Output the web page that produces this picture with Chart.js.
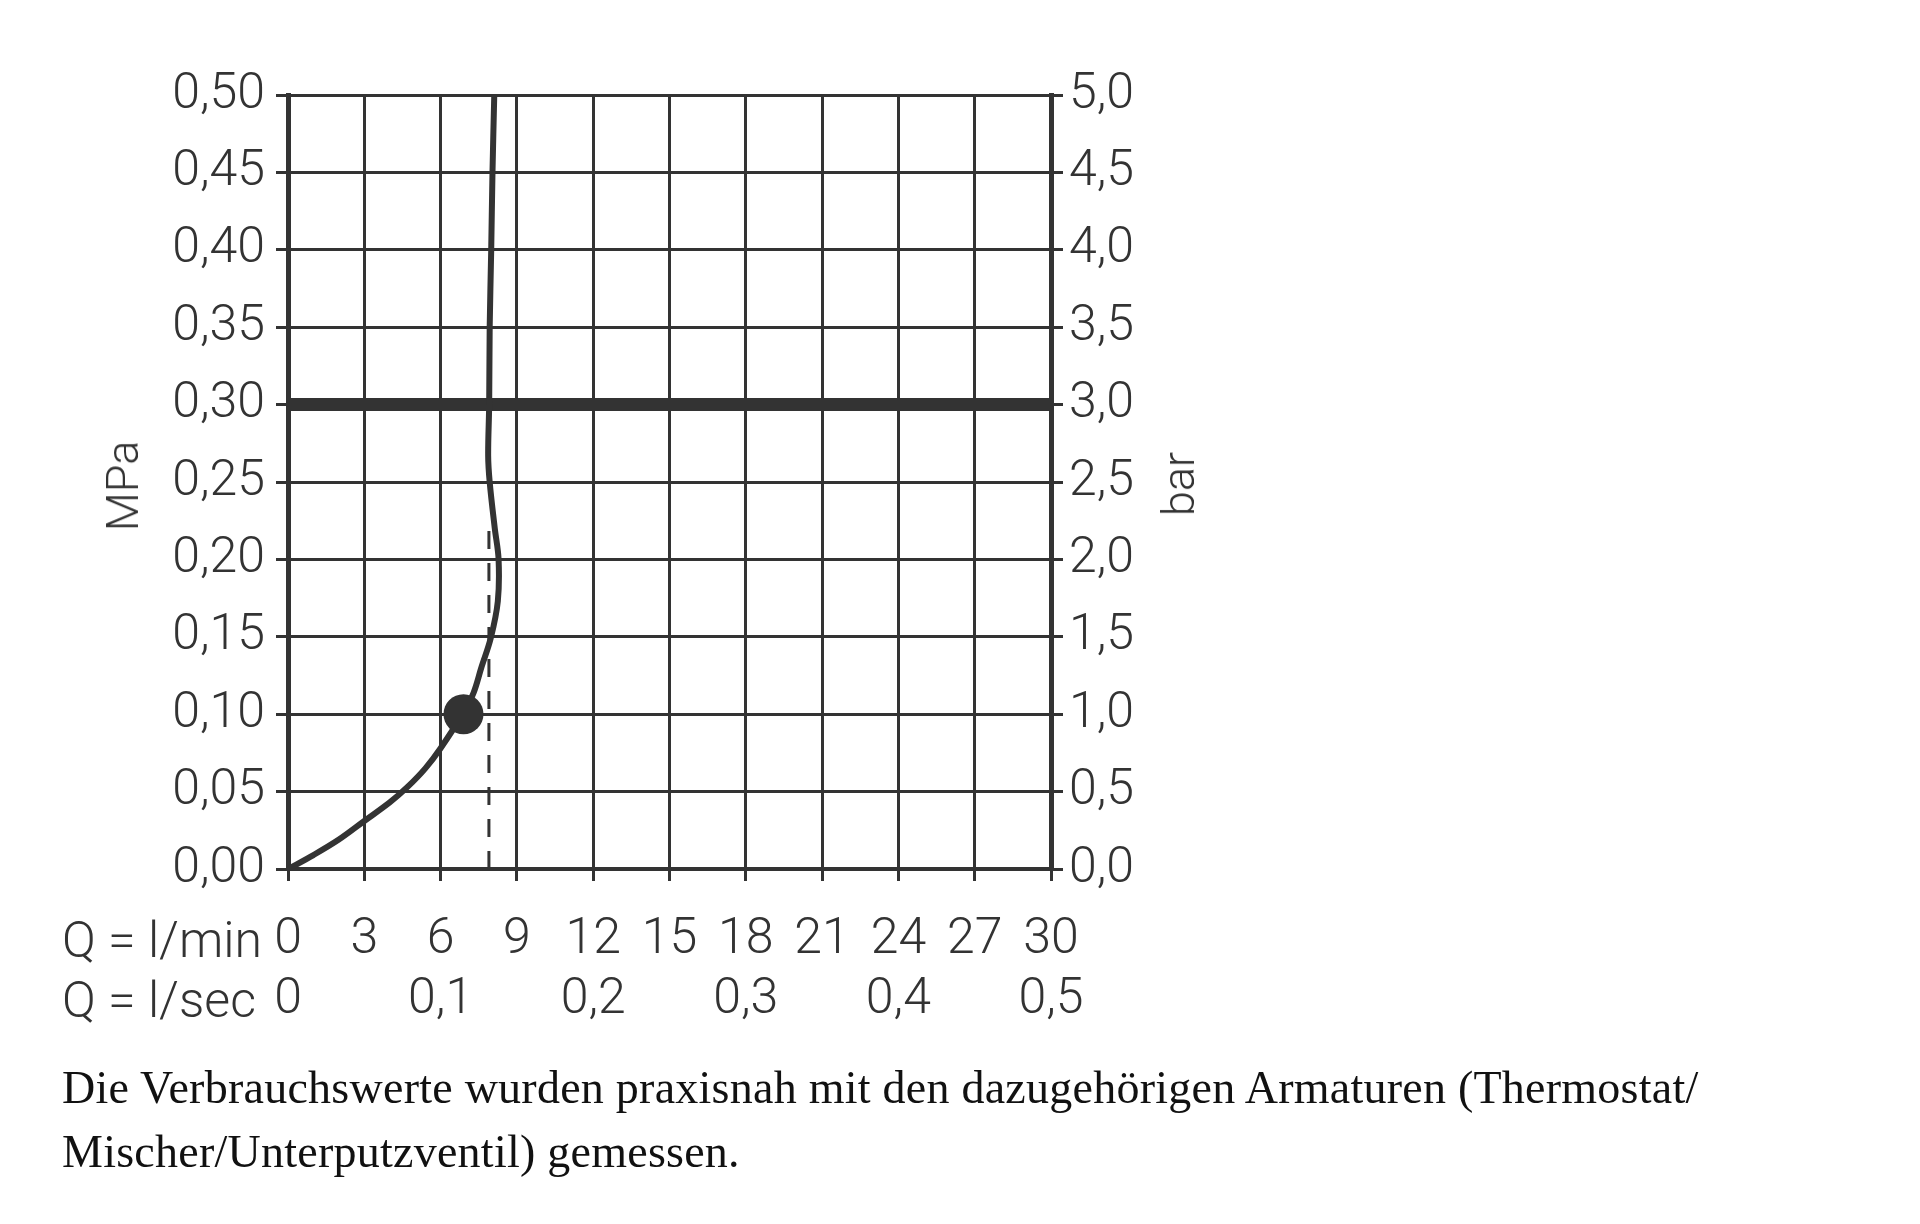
<!DOCTYPE html>
<html lang="de">

<head>
    <meta charset="UTF-8">
    <title>Durchflussdiagramm</title>
    <script src="https://cdn.jsdelivr.net/npm/chart.js"></script>
    <style>
        body {
            margin: 0;
            background: #fff;
        }

        .wrap {
            position: relative;
            width: 1920px;
            height: 1224px;
        }

        .lbl {
            position: absolute;
            font-family: Roboto, "Noto Sans", sans-serif;
            font-weight: 300;
            font-size: 50px;
            color: #333;
            white-space: nowrap;
            line-height: 60px;
        }

        .rot {
            font-size: 45px;
            transform: translate(-50%, -50%) rotate(-90deg);
        }

        .note {
            position: absolute;
            left: 62px;
            top: 1056px;
            font-family: "Liberation Serif", "Times New Roman", serif;
            font-size: 46px;
            letter-spacing: 0.25px;
            line-height: 64px;
            color: #111;
        }
    </style>
</head>

<body>
    <div class="wrap">
        <canvas id="flowChart"></canvas>
        <div class="lbl rot" style="left:123px; top:486px;">MPa</div>
        <div class="lbl rot" style="left:1179px; top:484px;">bar</div>
        <div class="lbl" style="left:62px; top:910px;">Q = l/min</div>
        <div class="lbl" style="left:62px; top:970px;">Q = l/sec</div>
        <div class="note">Die Verbrauchswerte wurden praxisnah mit den dazugehörigen Armaturen (Thermostat/<br>Mischer/Unterputzventil) gemessen.</div>
    </div>

    <script>
        // Kennlinie: Durchfluss (l/min) ueber Fliessdruck (MPa)
        const flowLpm = [0, 1.0, 2.0, 3.0, 4.0, 4.7, 5.4, 6.0, 6.9, 7.3, 7.6, 7.97, 8.25, 8.28, 8.13, 7.93, 7.87, 7.91, 7.93, 7.99, 8.04, 8.11];
        const pressureMPa = [0, 0.009, 0.019, 0.031, 0.043, 0.053, 0.065, 0.078, 0.101, 0.114, 0.13, 0.149, 0.173, 0.20, 0.22, 0.25, 0.267, 0.30, 0.35, 0.40, 0.45, 0.50];

        // Betriebspunkt und senkrechte Hilfslinie
        const pointFlow = [6.9];
        const pointPressure = [0.10];
        const dashFlow = [7.9, 7.9];
        const dashPressure = [0, 0.225];

        // empfohlener Fliessdruck
        const refFlow = [0, 30];
        const refPressure = [0.30, 0.30];

        const xTicksMin = ['0', '3', '6', '9', '12', '15', '18', '21', '24', '27', '30'];
        const xTicksSec = ['0', '', '0,1', '', '0,2', '', '0,3', '', '0,4', '', '0,5'];
        const yTicksMPa = ['0,00', '0,05', '0,10', '0,15', '0,20', '0,25', '0,30', '0,35', '0,40', '0,45', '0,50'];
        const yTicksBar = ['0,0', '0,5', '1,0', '1,5', '2,0', '2,5', '3,0', '3,5', '4,0', '4,5', '5,0'];

        const ink = '#333';
        const tickFont = { family: 'Roboto, "Noto Sans", sans-serif', size: 50, weight: '300', lineHeight: 1.2 };

        function pairs(xs, ys) {
            return xs.map((x, i) => ({ x: x, y: ys[i] }));
        }

        const ctx = document.getElementById('flowChart').getContext('2d');
        new Chart(ctx, {
            type: 'scatter',
            data: {
                datasets: [
                    {
                        data: pairs(pointFlow, pointPressure),
                        pointRadius: 20,
                        backgroundColor: ink,
                        borderWidth: 0,
                        order: 0
                    },
                    {
                        data: pairs(flowLpm, pressureMPa),
                        showLine: true,
                        tension: 0.35,
                        borderColor: ink,
                        borderWidth: 6,
                        pointRadius: 0,
                        order: 1
                    },
                    {
                        data: pairs(dashFlow, dashPressure),
                        showLine: true,
                        borderColor: ink,
                        borderWidth: 3,
                        borderDash: [18, 14],
                        pointRadius: 0,
                        order: 2
                    },
                    {
                        data: pairs(refFlow, refPressure),
                        showLine: true,
                        borderColor: ink,
                        borderWidth: 13,
                        borderCapStyle: 'butt',
                        pointRadius: 0,
                        order: 3
                    }
                ]
            },
            options: {
                responsive: true,
                maintainAspectRatio: false,
                animation: false,
                layout: {
                    padding: { top: 95, left: 0, right: 669, bottom: 155 }
                },
                plugins: {
                    legend: { display: false },
                    tooltip: { enabled: false }
                },
                scales: {
                    x: {
                        type: 'linear',
                        min: 0,
                        max: 30,
                        afterFit: (s) => { s.height = 200; },
                        afterBuildTicks: (s) => { s.ticks = xTicksMin.map((t, i) => ({ value: i * 3 })); },
                        grid: { color: ink, lineWidth: 3, tickLength: 12 },
                        border: { color: ink, width: 4 },
                        ticks: {
                            autoSkip: false,
                            maxRotation: 0,
                            padding: 29,
                            color: ink,
                            font: tickFont,
                            callback: (v, i) => [xTicksMin[i], xTicksSec[i]]
                        }
                    },
                    y: {
                        type: 'linear',
                        position: 'left',
                        min: 0,
                        max: 0.5,
                        afterFit: (s) => { s.width = 288; },
                        afterBuildTicks: (s) => { s.ticks = yTicksMPa.map((t, i) => ({ value: i * 0.05 })); },
                        grid: { color: ink, lineWidth: 3, tickLength: 12 },
                        border: { color: ink, width: 5 },
                        ticks: {
                            padding: 11,
                            color: ink,
                            font: tickFont,
                            callback: (v, i) => yTicksMPa[i]
                        }
                    },
                    y2: {
                        type: 'linear',
                        position: 'right',
                        min: 0,
                        max: 5,
                        afterFit: (s) => { s.width = 200; },
                        afterBuildTicks: (s) => { s.ticks = yTicksBar.map((t, i) => ({ value: i * 0.5 })); },
                        grid: { drawOnChartArea: false, color: ink, lineWidth: 3, tickLength: 12 },
                        border: { color: ink, width: 5 },
                        ticks: {
                            padding: 6,
                            color: ink,
                            font: tickFont,
                            callback: (v, i) => yTicksBar[i]
                        }
                    }
                }
            }
        });
    </script>
</body>

</html>
